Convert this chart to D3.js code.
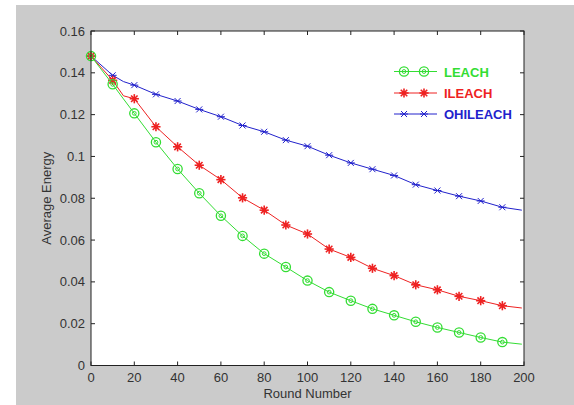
<!DOCTYPE html>
<html><head><meta charset="utf-8">
<script src="https://cdn.jsdelivr.net/npm/d3@7"></script>
<style>body{margin:0;background:#fff}svg{display:block}text{font-family:"Liberation Sans",Arial,sans-serif}</style>
</head><body>
<script>
const rounds = [0,10,15,20,30,40,50,60,70,80,90,100,110,120,130,140,150,160,170,180,190,199];
const leach   = [0.148,0.1345,0.1275,0.1206,0.1068,0.094,0.0824,0.0716,0.062,0.0535,0.0471,0.0406,0.0351,0.031,0.0271,0.024,0.0209,0.0182,0.0158,0.0134,0.0112,0.0102];
const ileach  = [0.148,0.1364,0.129,0.1276,0.1142,0.1046,0.0958,0.0889,0.0802,0.0743,0.0672,0.0629,0.0557,0.0517,0.0465,0.043,0.0386,0.0362,0.0331,0.031,0.0286,0.0275];
const ohileach= [0.148,0.1388,0.1358,0.1341,0.1297,0.1265,0.1225,0.119,0.1148,0.1118,0.1078,0.1049,0.1006,0.0969,0.0939,0.0909,0.0865,0.0837,0.081,0.0787,0.0757,0.0743];
const seriesNames = ["LEACH","ILEACH","OHILEACH"];
const xTicks = [0,20,40,60,80,100,120,140,160,180,200];
const yTicks = [0,0.02,0.04,0.06,0.08,0.1,0.12,0.14,0.16];
const yTickLabels = ["0","0.02","0.04","0.06","0.08","0.1","0.12","0.14","0.16"];

const W=574,H=405;
const svg=d3.select("body").append("svg").attr("width",W).attr("height",H);
svg.append("rect").attr("x",16).attr("y",5).attr("width",W-16).attr("height",H-5).attr("fill","#cbcbcb");
const L=91,R=524,T=31,B=365.5;
const x=d3.scaleLinear().domain([0,200]).range([L,R]);
const y=d3.scaleLinear().domain([0,0.16]).range([B,T]);
svg.append("rect").attr("x",L).attr("y",T).attr("width",R-L).attr("height",B-T).attr("fill","#fff");

const colors={LEACH:"#33dd33",ILEACH:"#ee2222",OHILEACH:"#2222cc"};
const data={LEACH:leach,ILEACH:ileach,OHILEACH:ohileach};

function marker(g,name,cx,cy){
  const c=colors[name];
  if(name==="LEACH"){
    g.append("circle").attr("cx",cx).attr("cy",cy).attr("r",4.6).attr("fill","none").attr("stroke",c).attr("stroke-width",1.3);
    g.append("circle").attr("cx",cx).attr("cy",cy).attr("r",1.9).attr("fill","none").attr("stroke",c).attr("stroke-width",1);
  } else if(name==="ILEACH"){
    const s=4.6;
    for(let a=0;a<4;a++){const t=a*Math.PI/4;
      g.append("line").attr("x1",cx-s*Math.cos(t)).attr("y1",cy-s*Math.sin(t)).attr("x2",cx+s*Math.cos(t)).attr("y2",cy+s*Math.sin(t)).attr("stroke",c).attr("stroke-width",1.6);}
    g.append("circle").attr("cx",cx).attr("cy",cy).attr("r",2).attr("fill",c);
  } else {
    const s=3;
    [[-s,-s,s,s],[-s,s,s,-s],[-s-1,0,s+1,0]].forEach(d=>g.append("line").attr("x1",cx+d[0]).attr("y1",cy+d[1]).attr("x2",cx+d[2]).attr("y2",cy+d[3]).attr("stroke",c).attr("stroke-width",1));
  }
}

const line=d3.line().x(d=>x(d[0])).y(d=>y(d[1]));
["OHILEACH","ILEACH","LEACH"].forEach(name=>{
  const pts=rounds.map((r,i)=>[r,data[name][i]]);
  svg.append("path").attr("d",line(pts)).attr("fill","none").attr("stroke",colors[name]).attr("stroke-width",1);
  const g=svg.append("g");
  pts.forEach(p=>{ if(p[0]%10===0 && p[0]<200) marker(g,name,x(p[0]),y(p[1])); });
});

// axes box
const ax=svg.append("g");
ax.append("rect").attr("x",L).attr("y",T).attr("width",R-L).attr("height",B-T).attr("fill","none").attr("stroke","#222").attr("stroke-width",1);
const tk=4;
xTicks.forEach(v=>{
  ax.append("line").attr("x1",x(v)).attr("x2",x(v)).attr("y1",B).attr("y2",B-tk).attr("stroke","#222");
  ax.append("line").attr("x1",x(v)).attr("x2",x(v)).attr("y1",T).attr("y2",T+tk).attr("stroke","#222");
  ax.append("text").attr("x",x(v)).attr("y",B+16).attr("text-anchor","middle").attr("font-size",13).attr("fill","#333").text(v);
});
yTicks.forEach((v,i)=>{
  ax.append("line").attr("x1",L).attr("x2",L+tk).attr("y1",y(v)).attr("y2",y(v)).attr("stroke","#222");
  ax.append("line").attr("x1",R).attr("x2",R-tk).attr("y1",y(v)).attr("y2",y(v)).attr("stroke","#222");
  ax.append("text").attr("x",L-6).attr("y",y(v)+4.5).attr("text-anchor","end").attr("font-size",13).attr("fill","#333").text(yTickLabels[i]);
});
svg.append("text").attr("x",(L+R)/2).attr("y",398).attr("text-anchor","middle").attr("font-size",13).attr("fill","#333").text("Round Number");
svg.append("text").attr("transform",`translate(51,${(T+B)/2}) rotate(-90)`).attr("text-anchor","middle").attr("font-size",13).attr("fill","#333").text("Average Energy");

// legend
const lg=svg.append("g");
const ly=[71.5,93,114];
seriesNames.forEach((name,i)=>{
  lg.append("line").attr("x1",394).attr("x2",437).attr("y1",ly[i]).attr("y2",ly[i]).attr("stroke",colors[name]).attr("stroke-width",1);
  marker(lg,name,404,ly[i]); marker(lg,name,424,ly[i]);
  lg.append("text").attr("x",444).attr("y",ly[i]+5).attr("font-size",13).attr("font-weight","bold").attr("fill",colors[name]).text(name);
});
</script>
</body></html>
